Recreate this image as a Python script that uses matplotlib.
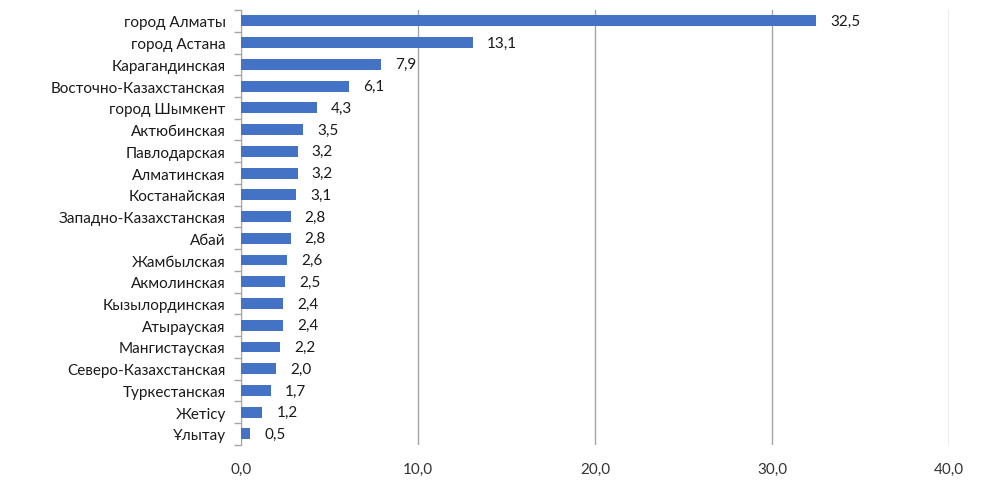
import matplotlib
matplotlib.use("Agg")
import matplotlib.pyplot as plt

regions = ["город Алматы", "город Астана", "Карагандинская", "Восточно-Казахстанская",
           "город Шымкент", "Актюбинская", "Павлодарская", "Алматинская", "Костанайская",
           "Западно-Казахстанская", "Абай", "Жамбылская", "Акмолинская", "Кызылординская",
           "Атырауская", "Мангистауская", "Северо-Казахстанская", "Туркестанская",
           "Жетісу", "Ұлытау"]
values = [32.5, 13.1, 7.9, 6.1, 4.3, 3.5, 3.2, 3.2, 3.1, 2.8, 2.8, 2.6, 2.5, 2.4,
          2.4, 2.2, 2.0, 1.7, 1.2, 0.5]
xticks = [0, 10, 20, 30, 40]

plt.rcParams['font.family'] = ['Lato', 'DejaVu Sans']

fig = plt.figure(figsize=(10, 5.02), dpi=100)
ax = fig.add_axes([0.241, 0.112, 0.708, 0.866])

pos = list(range(len(regions)))
ax.barh(pos, values, height=0.5, color='#4472C4', zorder=3)
for p, v in zip(pos, values):
    ax.text(v + 0.8, p, f"{v:.1f}".replace('.', ','), va='center', ha='left',
            fontsize=11, color='#1a1a1a')

ax.set_ylim(len(regions) - 0.5, -0.5)
ax.set_xlim(0, 40)
ax.set_xticks(xticks)
ax.set_xticklabels([f"{t:.1f}".replace('.', ',') for t in xticks], fontsize=11, color='#333333')
ax.set_yticks(pos)
ax.set_yticklabels(regions, fontsize=11, color='#1a1a1a')
ax.tick_params(axis='y', length=0, pad=11)
ax.set_yticks([p + 0.5 for p in range(-1, len(regions))], minor=True)
ax.tick_params(axis='y', which='minor', length=5, color='#A6A6A6', width=1)
ax.tick_params(axis='x', length=0, pad=12)
ax.grid(axis='x', color='#A6A6A6', linewidth=1, zorder=0)
for s in ['top', 'right', 'bottom']:
    ax.spines[s].set_visible(False)
ax.spines['left'].set_color('#A6A6A6')

fig.savefig('out.png', dpi=100)
